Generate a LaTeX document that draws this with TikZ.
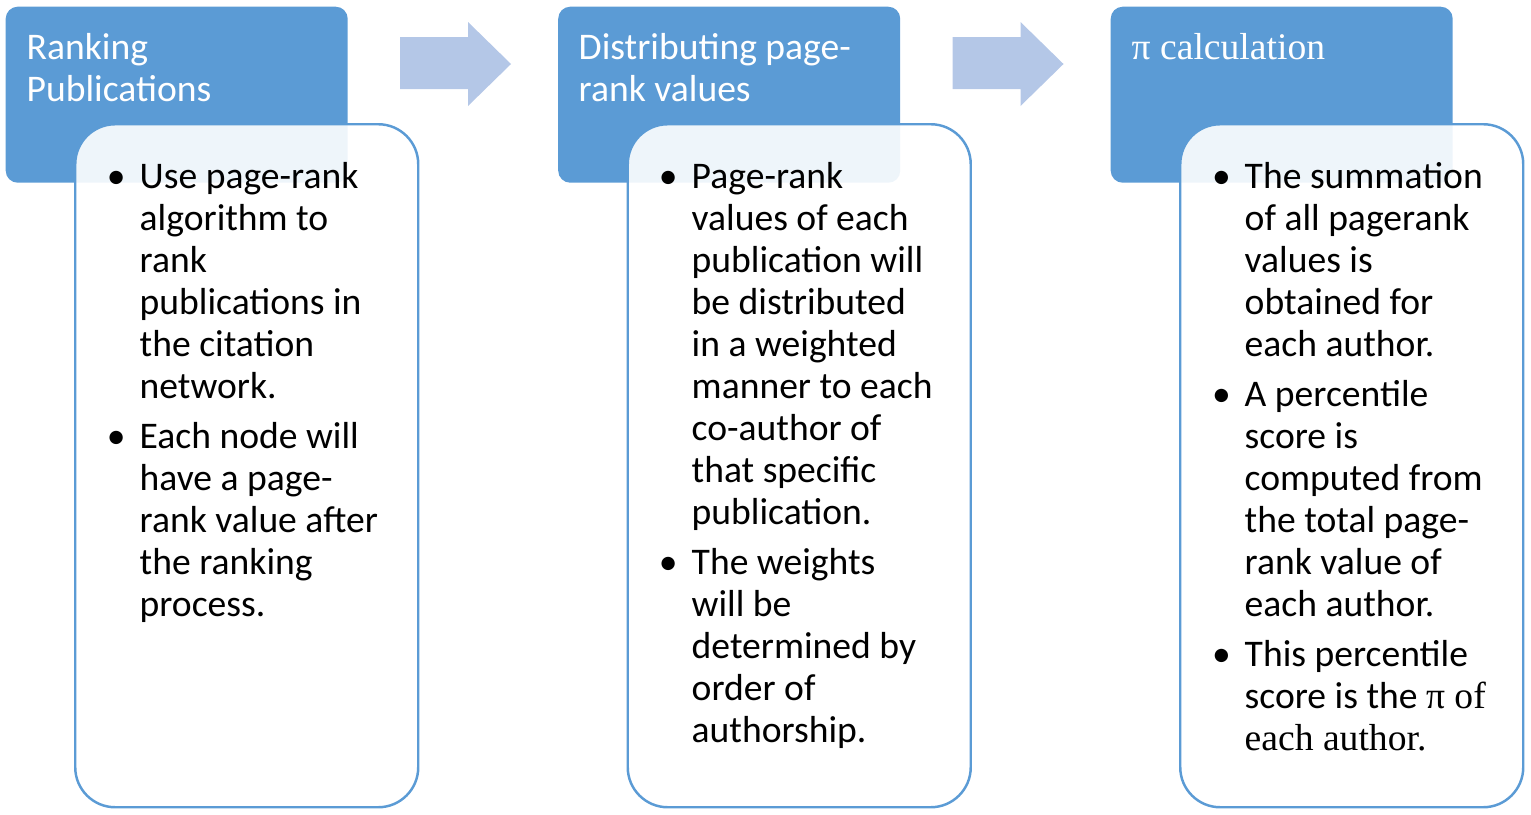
\documentclass[tikz,border=0pt]{standalone}
\usepackage{fontspec}
\setmainfont{Carlito}
\newfontfamily\timesfont{Liberation Serif}

\definecolor{headblue}{RGB}{91,155,213}
\definecolor{flowblue}{RGB}{180,199,231}

\tikzset{
        head/.style={fill=headblue, rounded corners=0.12cm, minimum width=3.42cm, minimum height=1.76cm, anchor=north west, inner sep=0pt},
        body/.style={draw=headblue, line width=0.7pt, fill=white, fill opacity=0.9, rounded corners=0.4cm, minimum width=3.43cm, minimum height=6.83cm, anchor=north west, inner sep=0pt},
        headtext/.style={text=white, anchor=north west, align=left, inner sep=0pt, font=\fontsize{10.7}{11.95}\selectfont},
        bodytext/.style={anchor=north west, align=left, inner sep=0pt, font=\fontsize{10.7}{11.95}\selectfont},
        flow/.style={fill=flowblue}
}
\newcommand{\bul}{\llap{\textbullet\hspace{0.14cm}}}

\begin{document}
\begin{tikzpicture}
        \useasboundingbox (0, 0) rectangle (15.31, -8.14);

        \foreach \i in {0, 1, 2}
        {
                \node[head] (head\i) at (0.05+5.525*\i, -0.06) {};
                \node[body] (body\i) at (0.74+5.525*\i, -1.23) {};
        }
        \foreach \i in {0, 1}
        {
                \fill[flow] (4.00+5.525*\i, -0.37) -- (4.68+5.525*\i, -0.37) -- (4.68+5.525*\i, -0.22)
                        -- (5.11+5.525*\i, -0.64) -- (4.68+5.525*\i, -1.06) -- (4.68+5.525*\i, -0.89)
                        -- (4.00+5.525*\i, -0.89) -- cycle;
        }

        \node[headtext] (rankhead) at (0.26, -0.33) {Ranking\\Publications};
        \node[headtext] (disthead) at (5.78, -0.33) {Distributing page-\\rank values};
        \node[headtext] (pihead) at (11.31, -0.33) {{\timesfont π calculation}};

        \node[bodytext] (ranktext) at (1.39, -1.62) {\bul Use page-rank\\algorithm to\\rank\\publications in\\the citation\\network.\\[2.3pt]
                \bul Each node will\\have a page-\\rank value after\\the ranking\\process.};
        \node[bodytext] (disttext) at (6.91, -1.62) {\bul Page-rank\\values of each\\publication will\\be distributed\\in a weighted\\manner to each\\co-author of\\that specific\\publication.\\[2.3pt]
                \bul The weights\\will be\\determined by\\order of\\authorship.};
        \node[bodytext] (pitext) at (12.44, -1.62) {\bul The summation\\of all pagerank\\values is\\obtained for\\each author.\\[2.3pt]
                \bul A percentile\\score is\\computed from\\the total page-\\rank value of\\each author.\\[2.3pt]
                \bul This percentile\\score is the {\timesfont π of}\\{\timesfont each author.}};

\end{tikzpicture}
\end{document}
